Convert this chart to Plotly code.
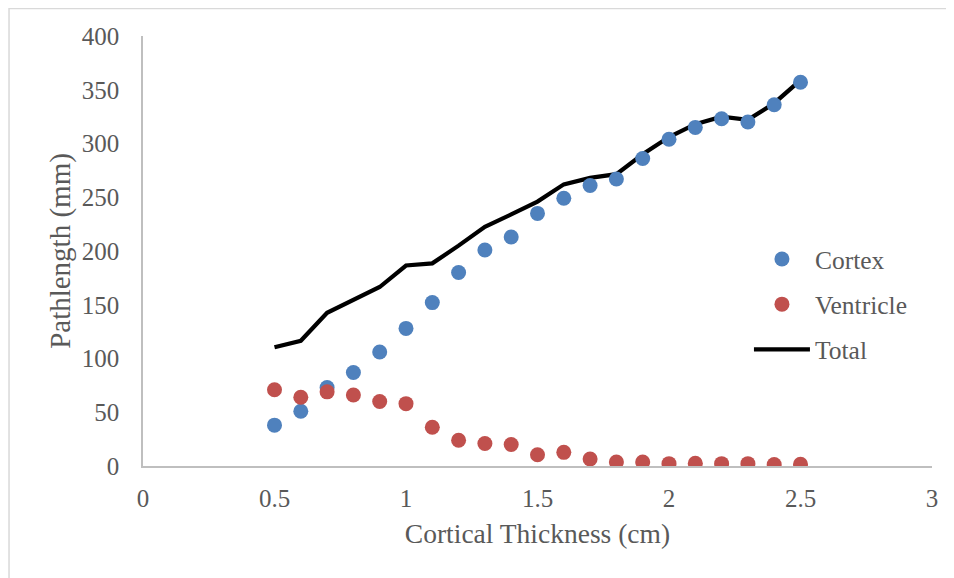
import plotly.graph_objects as go

thickness = [0.5, 0.6, 0.7, 0.8, 0.9, 1.0, 1.1, 1.2, 1.3, 1.4, 1.5,
             1.6, 1.7, 1.8, 1.9, 2.0, 2.1, 2.2, 2.3, 2.4, 2.5]
cortex = [38, 51, 73, 87, 106, 128, 152, 180, 201, 213, 235,
          249, 261, 267, 286, 304, 315, 323, 320, 336, 357]
ventricle = [71, 64, 69, 66, 60, 58, 36, 24, 21, 20, 10.5,
             12.7, 6.5, 3.7, 3.7, 2.2, 2.5, 2.2, 2.2, 1.3, 1.6]
total = [110.5, 116.5, 142.5, 154, 166.5, 186.5, 188.5, 205, 222.5, 234, 246,
         262, 268, 271.5, 290, 306, 318, 325, 322, 337.5, 359]

x_ticks = [0, 0.5, 1, 1.5, 2, 2.5, 3]
x_tick_text = ["0", "0.5", "1", "1.5", "2", "2.5", "3"]
y_ticks = [0, 50, 100, 150, 200, 250, 300, 350, 400]

FONT = "Liberation Serif"
TXT = "#595959"

fig = go.Figure()
fig.add_trace(go.Scatter(x=thickness, y=total, mode="lines", name="Total",
                         legendgroup="c", legendrank=3,
                         line=dict(color="#000000", width=4.2)))
fig.add_trace(go.Scatter(x=thickness, y=cortex, mode="markers", name="Cortex",
                         legendgroup="a", legendrank=1,
                         marker=dict(color="#4F81BD", size=15)))
fig.add_trace(go.Scatter(x=thickness, y=ventricle, mode="markers", name="Ventricle",
                         legendgroup="b", legendrank=2,
                         marker=dict(color="#C0504D", size=15)))

fig.update_layout(
    width=954, height=578,
    margin=dict(l=135, r=30, t=28, b=120),
    paper_bgcolor="white", plot_bgcolor="white",
    font=dict(family=FONT, color=TXT, size=25),
    showlegend=True,
    legend=dict(x=0.768, y=0.535, xanchor="left", yanchor="top",
                bgcolor="rgba(0,0,0,0)", font=dict(size=25.5, color=TXT),
                tracegroupgap=9, itemwidth=56),
    xaxis=dict(range=[0, 3], tickvals=x_ticks, ticktext=x_tick_text,
               showgrid=False, zeroline=False, showline=True,
               linecolor="#BFBFBF", linewidth=1.5, ticks="",
               ticklabelstandoff=9,
               tickfont=dict(size=25, color=TXT),
               title=dict(text="Cortical Thickness (cm)", standoff=13,
                          font=dict(size=27.5, color=TXT))),
    yaxis=dict(range=[0, 400], tickvals=y_ticks,
               showgrid=False, zeroline=False, showline=True,
               linecolor="#BFBFBF", linewidth=1.5, ticks="",
               ticklabelstandoff=17,
               tickfont=dict(size=25, color=TXT),
               title=dict(text="Pathlength (mm)", standoff=3,
                          font=dict(size=29, color=TXT))),
    shapes=[dict(type="rect", xref="paper", yref="paper",
                 x0=-0.1698, x1=1.05, y0=-0.32, y1=1.064,
                 line=dict(color="#D9D9D9", width=1.5),
                 fillcolor="rgba(0,0,0,0)", layer="below")],
)

fig.write_html("out.html")
